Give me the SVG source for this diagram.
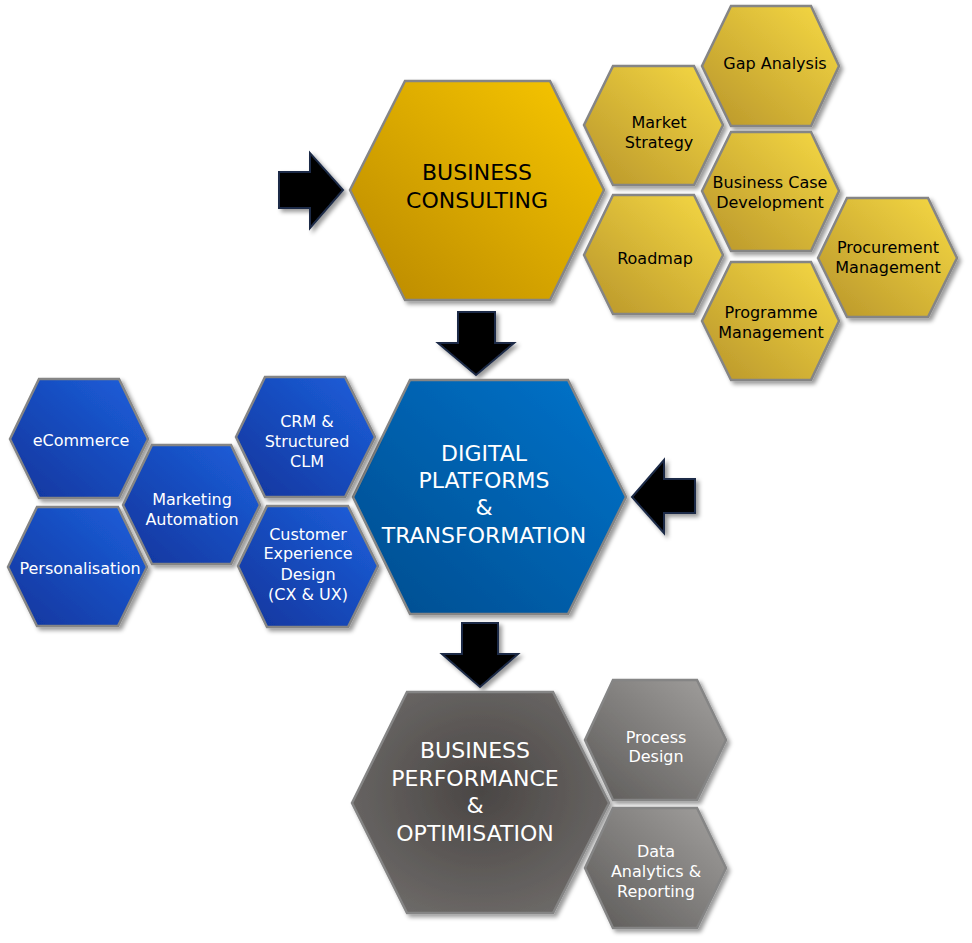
<svg xmlns="http://www.w3.org/2000/svg" width="972" height="943" viewBox="0 0 972 943">
<style>
  .hex { stroke: #858585; stroke-width: 2.5; stroke-linejoin: miter; filter: url(#shadow); }
  .t { font-family: "DejaVu Sans", "Liberation Sans", sans-serif; text-anchor: middle; }
  .big { font-size: 22px; }
  .sm { font-size: 16px; }
  .dark { fill: #000000; }
  .light { fill: #ffffff; }
  .arrow { fill: #000000; stroke: #1c2b47; stroke-width: 2; stroke-linejoin: miter; filter: url(#shadow); }
</style>
<defs>
  <filter id="shadow" x="-20%" y="-20%" width="140%" height="140%">
    <feDropShadow dx="3" dy="3" stdDeviation="2.2" flood-color="#000" flood-opacity="0.4"/>
  </filter>
  <linearGradient id="goldMain" x1="1" y1="0" x2="0" y2="1">
    <stop offset="0" stop-color="#F9C800"/>
    <stop offset="1" stop-color="#B98800"/>
  </linearGradient>
  <linearGradient id="goldSmall" x1="1" y1="0" x2="0" y2="1">
    <stop offset="0" stop-color="#F7DA44"/>
    <stop offset="1" stop-color="#B8952A"/>
  </linearGradient>
  <linearGradient id="blueMain" x1="1" y1="0" x2="0" y2="1">
    <stop offset="0" stop-color="#0074CC"/>
    <stop offset="1" stop-color="#004C8E"/>
  </linearGradient>
  <linearGradient id="blueSmall" x1="1" y1="0" x2="0" y2="1">
    <stop offset="0" stop-color="#1D60DC"/>
    <stop offset="1" stop-color="#10359C"/>
  </linearGradient>
  <radialGradient id="greyMain" cx="0.5" cy="0.45" r="0.6">
    <stop offset="0" stop-color="#4A4644"/>
    <stop offset="1" stop-color="#6C6967"/>
  </radialGradient>
  <linearGradient id="greySmall" x1="1" y1="0" x2="0" y2="1">
    <stop offset="0" stop-color="#A3A19F"/>
    <stop offset="1" stop-color="#5C5A58"/>
  </linearGradient>
</defs>
<rect width="972" height="943" fill="#ffffff"/>

<g id="connectors">
  <polygon class="arrow" points="279,172 310,172 310,153 343,190 310,228 310,208 279,208"/>
  <polygon class="arrow" points="458,312 495,312 495,343 514,343 476,375 438,343 458,343"/>
  <polygon class="arrow" points="695,479 664,479 664,460 632,497 664,533 664,513 695,513"/>
  <polygon class="arrow" points="462,623 498,623 498,654 518,654 480,687 442,654 462,654"/>
</g>

<g id="business-consulting">
  <polygon class="hex" fill="url(#goldMain)" points="405,81 550,81 604,190 550,300 405,300 350,190"/>
  <text class="t big dark" x="477" y="180">BUSINESS</text>
  <text class="t big dark" x="477" y="208">CONSULTING</text>
</g>
<g id="gap-analysis">
  <polygon class="hex" fill="url(#goldSmall)" points="731,6 811,6 839,66 811,126 731,126 702,66"/>
  <text class="t sm dark" x="775" y="69">Gap Analysis</text>
</g>
<g id="market-strategy">
  <polygon class="hex" fill="url(#goldSmall)" points="613,66 694,66 723,125 694,185 613,185 584,125"/>
  <text class="t sm dark" x="659" y="128">Market</text>
  <text class="t sm dark" x="659" y="148">Strategy</text>
</g>
<g id="business-case">
  <polygon class="hex" fill="url(#goldSmall)" points="731,132 811,132 839,191 811,251 731,251 702,191"/>
  <text class="t sm dark" x="770" y="188">Business Case</text>
  <text class="t sm dark" x="770" y="208">Development</text>
</g>
<g id="roadmap">
  <polygon class="hex" fill="url(#goldSmall)" points="613,195 694,195 723,255 694,314 613,314 584,255"/>
  <text class="t sm dark" x="655" y="264">Roadmap</text>
</g>
<g id="procurement">
  <polygon class="hex" fill="url(#goldSmall)" points="847,198 928,198 957,258 928,317 847,317 818,258"/>
  <text class="t sm dark" x="888" y="253">Procurement</text>
  <text class="t sm dark" x="888" y="273">Management</text>
</g>
<g id="programme">
  <polygon class="hex" fill="url(#goldSmall)" points="731,262 811,262 839,321 811,380 731,380 702,321"/>
  <text class="t sm dark" x="771" y="318">Programme</text>
  <text class="t sm dark" x="771" y="338">Management</text>
</g>

<g id="digital-platforms">
  <polygon class="hex" fill="url(#blueMain)" points="410,380 568,380 626,497 568,614 410,614 353,497"/>
  <text class="t big light" x="484" y="461">DIGITAL</text>
  <text class="t big light" x="484" y="488">PLATFORMS</text>
  <text class="t big light" x="484" y="515">&amp;</text>
  <text class="t big light" x="484" y="543">TRANSFORMATION</text>
</g>
<g id="ecommerce">
  <polygon class="hex" fill="url(#blueSmall)" points="39,379 119,379 148,439 119,498 39,498 10,439"/>
  <text class="t sm light" x="81" y="446">eCommerce</text>
</g>
<g id="personalisation">
  <polygon class="hex" fill="url(#blueSmall)" points="37,507 118,507 147,567 118,626 37,626 8,567"/>
  <text class="t sm light" x="80" y="574">Personalisation</text>
</g>
<g id="marketing-automation">
  <polygon class="hex" fill="url(#blueSmall)" points="152,445 231,445 260,505 231,564 152,564 123,505"/>
  <text class="t sm light" x="192" y="505">Marketing</text>
  <text class="t sm light" x="192" y="525">Automation</text>
</g>
<g id="crm">
  <polygon class="hex" fill="url(#blueSmall)" points="265,377 345,377 375,437 345,497 265,497 236,437"/>
  <text class="t sm light" x="307" y="427">CRM &amp;</text>
  <text class="t sm light" x="307" y="447">Structured</text>
  <text class="t sm light" x="307" y="467">CLM</text>
</g>
<g id="customer-experience">
  <polygon class="hex" fill="url(#blueSmall)" points="267,506 348,506 378,566 348,627 267,627 238,566"/>
  <text class="t sm light" x="308" y="540">Customer</text>
  <text class="t sm light" x="308" y="559">Experience</text>
  <text class="t sm light" x="308" y="580">Design</text>
  <text class="t sm light" x="308" y="600">(CX &amp; UX)</text>
</g>

<g id="business-performance">
  <polygon class="hex" fill="url(#greyMain)" points="407,692 553,692 609,803 553,913 407,913 352,803"/>
  <text class="t big light" x="475" y="758">BUSINESS</text>
  <text class="t big light" x="475" y="786">PERFORMANCE</text>
  <text class="t big light" x="475" y="813">&amp;</text>
  <text class="t big light" x="475" y="841">OPTIMISATION</text>
</g>
<g id="process-design">
  <polygon class="hex" fill="url(#greySmall)" points="613,680 697,680 726,740 697,800 613,800 585,740"/>
  <text class="t sm light" x="656" y="743">Process</text>
  <text class="t sm light" x="656" y="762">Design</text>
</g>
<g id="data-analytics">
  <polygon class="hex" fill="url(#greySmall)" points="613,808 697,808 726,868 697,928 613,928 585,868"/>
  <text class="t sm light" x="656" y="857">Data</text>
  <text class="t sm light" x="656" y="877">Analytics &amp;</text>
  <text class="t sm light" x="656" y="897">Reporting</text>
</g>
</svg>
